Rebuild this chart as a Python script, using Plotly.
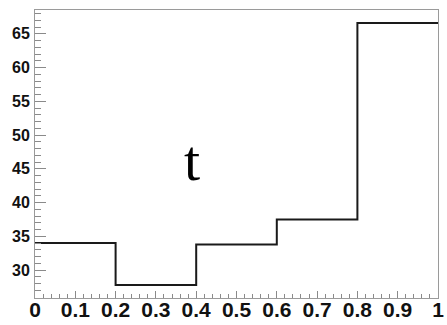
import plotly.graph_objects as go

# bin edges and contents of the histogram
bin_edges = [0.0, 0.2, 0.4, 0.6, 0.8, 1.0]
bin_contents = [34.0, 27.8, 33.8, 37.5, 66.6]

x_ticks = [0, 0.1, 0.2, 0.3, 0.4, 0.5, 0.6, 0.7, 0.8, 0.9, 1]
x_tick_labels = ["0", "0.1", "0.2", "0.3", "0.4", "0.5", "0.6", "0.7", "0.8", "0.9", "1"]
y_ticks = [30, 35, 40, 45, 50, 55, 60, 65]
y_tick_labels = ["30", "35", "40", "45", "50", "55", "60", "65"]

title_text = "t"

# step line: repeat last content so the final bin reaches the right edge
step_y = bin_contents + [bin_contents[-1]]

fig = go.Figure()
fig.add_trace(go.Scatter(
    x=bin_edges, y=step_y, mode="lines",
    line=dict(shape="hv", color="#1a1a1a", width=2),
    hoverinfo="skip", showlegend=False,
))

lo, hi = min(bin_contents), max(bin_contents)
pad = 0.05 * (hi - lo)

axis_common = dict(
    showline=True, linecolor="#9a9a9a", linewidth=1, mirror=True,
    showgrid=False, zeroline=False, ticks="inside", tickcolor="#8a8a8a",
    tickwidth=1, automargin=False,
)

fig.update_xaxes(
    range=[0, 1], tickmode="array", tickvals=x_ticks, ticktext=x_tick_labels,
    ticklen=7,
    minor=dict(dtick=0.02, ticks="inside", ticklen=4, tickcolor="#8a8a8a", tickwidth=1),
    tickfont=dict(family="Liberation Sans", size=21, color="#111", weight="bold"),
    ticklabelstandoff=-7,
    **axis_common,
)
fig.update_yaxes(
    range=[lo - pad, hi + pad], tickmode="array", tickvals=y_ticks, ticktext=y_tick_labels,
    ticklen=11,
    minor=dict(dtick=1, ticks="inside", ticklen=6, tickcolor="#8a8a8a", tickwidth=1),
    tickfont=dict(family="Liberation Sans", size=16, color="#111", weight="bold"),
    ticklabelstandoff=1,
    **axis_common,
)

fig.add_annotation(
    x=0.39, y=46.2, xref="x", yref="y", text=title_text, showarrow=False,
    font=dict(family="Liberation Serif", size=58, color="#000"),
)

fig.update_layout(
    width=447, height=325,
    margin=dict(l=35, r=9, t=10, b=27),
    paper_bgcolor="white", plot_bgcolor="white",
)

fig.write_html("out.html")
